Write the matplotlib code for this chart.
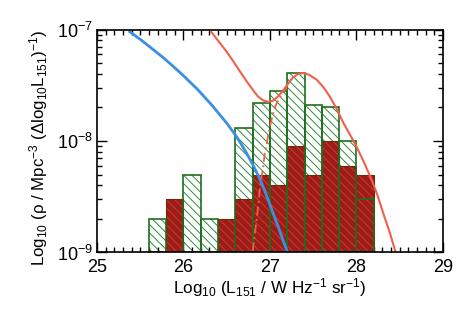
import numpy as np
import matplotlib
matplotlib.use("Agg")
import matplotlib.pyplot as plt
from matplotlib.ticker import MultipleLocator, FixedLocator, NullFormatter, LogFormatterSciNotation

plt.rcParams['font.family'] = ['Liberation Sans', 'DejaVu Sans']
plt.rcParams['mathtext.default'] = 'regular'
plt.rcParams['hatch.linewidth'] = 0.7

# Histogram data (bin edges in log10 L151)
bin_left = [25.6, 25.8, 26.0, 26.2, 26.4, 26.6, 26.8, 27.0, 27.2, 27.4, 27.6, 27.8, 28.0]
bin_width = 0.2
green_vals = [2e-9, 0, 5e-9, 2e-9, 0, 1.3e-8, 2.2e-8, 2.8e-8, 4.1e-8, 2.1e-8, 2.0e-8, 1.0e-8, 3e-9]
red_vals = [0, 3e-9, 0, 0, 2e-9, 3e-9, 5e-9, 4e-9, 9e-9, 5e-9, 1.0e-8, 6e-9, 5e-9]

# Tick values
x_ticks = [25, 26, 27, 28, 29]
y_ticks = [1e-9, 1e-8, 1e-7]
y_minor = [a * 10.0**e for e in (-9, -8) for a in range(2, 10)]

# Curves (x = log10 L, y = log10 rho)
blue_x = [25.38, 25.52, 25.65, 25.77, 25.88, 25.98, 26.08, 26.16, 26.23, 26.33, 26.42, 26.50,
          26.58, 26.65, 26.73, 26.81, 26.87, 26.92, 26.98, 27.04, 27.10, 27.16, 27.21]
blue_y = [-7.02, -7.10, -7.18, -7.255, -7.33, -7.40, -7.475, -7.535, -7.595, -7.68, -7.765, -7.84,
          -7.925, -8.005, -8.11, -8.225, -8.32, -8.41, -8.53, -8.655, -8.78, -8.91, -9.01]
red_x = [26.30, 26.36, 26.42, 26.50, 26.58, 26.66, 26.73, 26.80, 26.86, 26.92, 26.98, 27.03,
         27.08, 27.14, 27.20, 27.26, 27.32, 27.38, 27.45, 27.54, 27.62, 27.69, 27.77, 27.85,
         27.93, 28.00, 28.08, 28.16, 28.24, 28.31, 28.38, 28.45]
red_y = [-7.00, -7.06, -7.12, -7.20, -7.29, -7.385, -7.465, -7.54, -7.60, -7.635, -7.65, -7.64,
         -7.61, -7.56, -7.495, -7.435, -7.40, -7.39, -7.405, -7.45, -7.52, -7.60, -7.71, -7.84,
         -7.95, -8.05, -8.18, -8.32, -8.48, -8.65, -8.81, -8.99]
dd_x = [26.80, 26.83, 26.85, 26.87, 26.89, 26.92, 26.94, 26.97, 27.00, 27.03, 27.06, 27.10, 27.15, 27.21, 27.27]
dd_y = [-8.99, -8.80, -8.68, -8.53, -8.38, -8.24, -8.11, -7.99, -7.87, -7.77, -7.69, -7.63, -7.57, -7.49, -7.42]

BASE = 1e-9
fig = plt.figure(figsize=(4.72, 3.14), dpi=100)
ax = fig.add_axes([0.2055, 0.196, 0.733, 0.71])

gx = np.array(bin_left)
gv = np.array(green_vals)
rv = np.array(red_vals)
gm = gv > 0
rm = rv > 0

green_edge = '#1e6e1e'
green_hatch = '#2f8a3a'
red_fill = '#9e1c18'
red_hatch = '#c63e2e'

# green hatched bars
ax.bar(gx[gm], gv[gm] - BASE, bottom=BASE, width=bin_width, align='edge',
       facecolor='white', edgecolor=green_hatch, hatch='\\\\\\\\', linewidth=0, zorder=1)
# red filled hatched bars
ax.bar(gx[rm], rv[rm] - BASE, bottom=BASE, width=bin_width, align='edge',
       facecolor=red_fill, edgecolor=red_hatch, hatch='\\\\\\\\', linewidth=0, zorder=2)
ax.bar(gx[rm], rv[rm] - BASE, bottom=BASE, width=bin_width, align='edge',
       fill=False, edgecolor='#6a2a10', linewidth=0.8, zorder=3)
# green outlines
ax.bar(gx[gm], gv[gm] - BASE, bottom=BASE, width=bin_width, align='edge',
       fill=False, edgecolor=green_edge, linewidth=1.2, zorder=4)

ax.plot(blue_x, 10**np.array(blue_y), color='#3b8fe3', lw=2.0, zorder=6)
ax.plot(red_x, 10**np.array(red_y), color='#f0604c', lw=1.5, zorder=5)
ax.plot(dd_x, 10**np.array(dd_y), color='#f0604c', lw=1.3, ls=(0, (5, 2, 1, 2)), zorder=5)

ax.set_yscale('log')
ax.set_xlim(25, 29)
ax.set_ylim(1e-9, 1e-7)

ax.xaxis.set_major_locator(FixedLocator(x_ticks))
ax.xaxis.set_minor_locator(MultipleLocator(0.1))
ax.yaxis.set_major_locator(FixedLocator(y_ticks))
ax.yaxis.set_major_formatter(LogFormatterSciNotation())
ax.yaxis.set_minor_locator(FixedLocator(y_minor))
ax.yaxis.set_minor_formatter(NullFormatter())
ax.tick_params(which='both', direction='in', top=True, right=True, labelsize=13, width=1)
ax.tick_params(which='major', length=7)
ax.tick_params(which='minor', length=3.5)
ax.tick_params(axis='x', pad=5)
ax.tick_params(axis='y', pad=3)
for s in ax.spines.values():
    s.set_linewidth(1.2)
    s.set_zorder(10)

ax.set_xlabel('Log$_{10}$ (L$_{151}$ / W Hz$^{-1}$ sr$^{-1}$)', fontsize=12.3, labelpad=0)
ax.set_ylabel('Log$_{10}$ (\u03c1 / Mpc$^{-3}$ (\u0394log$_{10}$L$_{151}$)$^{-1}$)', fontsize=12.2)
ax.yaxis.set_label_coords(-0.135, 0.47)

fig.savefig('out.png', dpi=100)
